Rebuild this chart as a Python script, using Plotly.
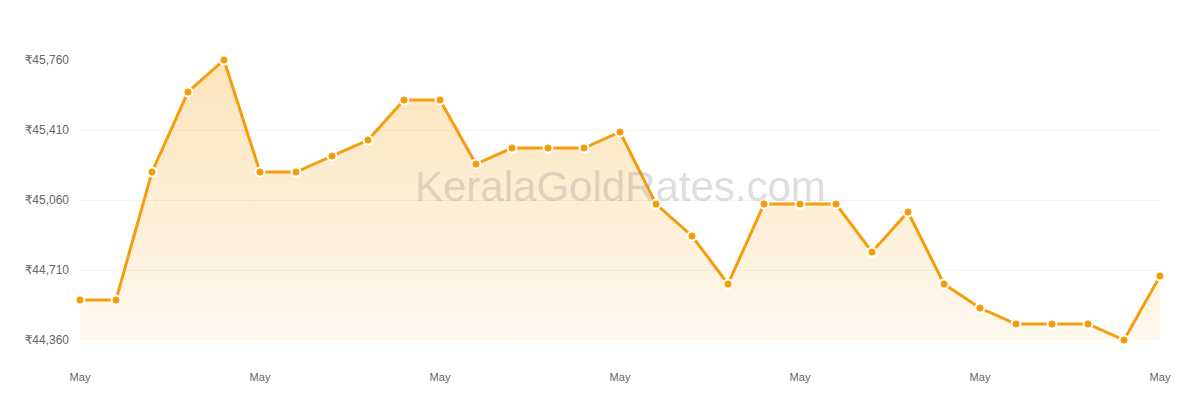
import plotly.graph_objects as go
import pandas as pd

# Kerala gold rate (8 g), May 2023
dates = pd.date_range("2023-05-01", "2023-05-31", freq="D")
rates = [44560, 44560, 45200, 45600, 45760, 45200, 45200, 45280, 45360, 45560,
         45560, 45240, 45320, 45320, 45320, 45400, 45040, 44880, 44640, 45040,
         45040, 45040, 44800, 45000, 44640, 44520, 44440, 44440, 44440, 44360,
         44680]
y_ticks = [44360, 44710, 45060, 45410, 45760]
y_labels = ["₹" + f"{v:,}" for v in y_ticks]

line_col = "#f59e0b"

fig = go.Figure()
fig.add_trace(go.Scatter(
    x=dates, y=rates,
    mode="lines+markers",
    line=dict(color=line_col, width=3),
    marker=dict(color=line_col, size=9, line=dict(color="white", width=2)),
    fill="tozeroy",
    fillgradient=dict(
        type="vertical",
        start=y_ticks[0], stop=y_ticks[-1],
        colorscale=[[0, "rgba(245,158,11,0.07)"], [1, "rgba(245,158,11,0.28)"]],
    ),
    cliponaxis=False,
    hovertemplate="%{x|%d %b}: ₹%{y:,}<extra></extra>",
))

# watermark
fig.add_annotation(
    text="KeralaGoldRates.com", xref="paper", yref="paper",
    x=0.5, y=0.55, showarrow=False,
    font=dict(size=42, color="rgba(140,140,140,0.3)", family="Liberation Sans, Arial"),
)

fig.update_layout(
    width=1200, height=400,
    margin=dict(l=72, r=48, t=52, b=68),
    plot_bgcolor="white", paper_bgcolor="white",
    showlegend=False,
    font=dict(family="Liberation Sans, DejaVu Sans, Noto Sans", color="#666"),
    xaxis=dict(
        range=[dates[0], dates[-1]],
        tickvals=dates[::5], tickformat="%b",
        showgrid=False, zeroline=False, showline=False,
        tickfont=dict(size=11, color="#666"),
        ticklabelstandoff=29,
    ),
    yaxis=dict(
        range=[y_ticks[0], y_ticks[-1]],
        tickvals=y_ticks, ticktext=y_labels,
        showgrid=True, gridcolor="#f3f3f3", gridwidth=1,
        zeroline=False, showline=False,
        tickfont=dict(size=12, color="#666", family="Liberation Sans, DejaVu Sans, Noto Sans"),
        ticklabelstandoff=10,
    ),
)

fig.write_html("out.html")
